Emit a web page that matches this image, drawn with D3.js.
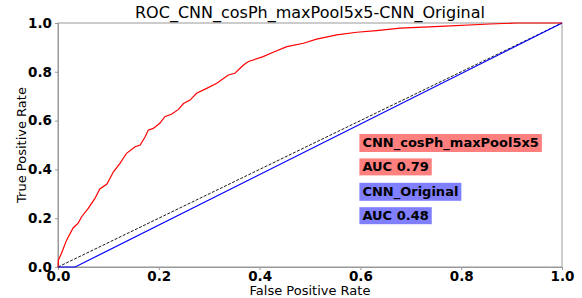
<!DOCTYPE html>
<html>
<head>
<meta charset="utf-8">
<script src="https://cdn.jsdelivr.net/npm/d3@7"></script>
<style>
body { margin: 0; background: #fff; }
svg { display: block; font-family: "DejaVu Sans", sans-serif; }
</style>
</head>
<body>
<div id="chart"></div>
<script>
let width = 582,
	height = 298;

let margin = {top: 23, right: 20, bottom: 31, left: 58};

// ROC points: [fpr, tpr]
let fprCos = [0, 0.001, 0.007, 0.017, 0.03, 0.04, 0.047, 0.06, 0.073, 0.083, 0.097, 0.103, 0.11, 0.123, 0.136, 0.153, 0.163, 0.173, 0.179, 0.189, 0.202, 0.212, 0.226, 0.239, 0.249, 0.262, 0.275, 0.295, 0.315, 0.338, 0.351, 0.368, 0.378, 0.407, 0.427, 0.454, 0.487, 0.513, 0.553, 0.593, 0.632, 0.679, 0.758, 0.857, 0.91, 1.0];
let tprCos = [0, 0.03, 0.056, 0.11, 0.16, 0.18, 0.206, 0.24, 0.28, 0.32, 0.34, 0.363, 0.39, 0.425, 0.466, 0.493, 0.5, 0.534, 0.561, 0.568, 0.589, 0.616, 0.627, 0.646, 0.67, 0.684, 0.712, 0.732, 0.753, 0.787, 0.794, 0.828, 0.842, 0.862, 0.88, 0.903, 0.917, 0.934, 0.951, 0.962, 0.969, 0.979, 0.986, 0.996, 1.0, 1.0];

let fprOrig = [0, 0.034, 1.0];
let tprOrig = [0, 0, 1.0];

let chance = [0, 1];

let ticks = [0, 0.2, 0.4, 0.6, 0.8, 1.0];

let labels = ["CNN_cosPh_maxPool5x5", "AUC 0.79", "CNN_Original", "AUC 0.48"];
let labelY = [0.5, 0.4, 0.3, 0.2];
let labelColor = ["#ff7f7f", "#ff7f7f", "#7f7fff", "#7f7fff"];

let title = "ROC_CNN_cosPh_maxPool5x5-CNN_Original";

let svg = d3.select('#chart').append('svg')
	.attr('width', width)
	.attr('height', height);

let x = d3.scaleLinear()
	.domain([0, 1])
	.range([margin.left, width - margin.right]);

let y = d3.scaleLinear()
	.domain([0, 1])
	.range([height - margin.bottom, margin.top]);

let line = d3.line()
	.x(function (d) { return x(d[0]) })
	.y(function (d) { return y(d[1]) });

// frame
svg.append('rect')
	.attr('x', x(0))
	.attr('y', y(1))
	.attr('width', x(1) - x(0))
	.attr('height', y(0) - y(1))
	.attr('fill', 'none')
	.attr('stroke', '#999');

// axes
let xAxis = d3.axisBottom(x).tickValues(ticks).tickFormat(d3.format('.1f')).tickSize(3);
let yAxis = d3.axisLeft(y).tickValues(ticks).tickFormat(d3.format('.1f')).tickSize(3);

function styleAxis(g) {
	g.selectAll('.domain').attr('stroke', '#999');
	g.selectAll('.tick line').attr('stroke', '#999');
	g.selectAll('.tick text')
		.attr('fill', '#000')
		.style('font-family', '"DejaVu Sans", sans-serif')
		.style('font-size', '13.5px')
		.style('font-weight', 'bold');
}

svg.append('g')
	.attr('transform', 'translate(0,' + y(0) + ')')
	.call(xAxis)
	.call(styleAxis)
	.call(function (g) { g.selectAll('text').attr('dy', '0.62em') });

svg.append('g')
	.attr('transform', 'translate(' + x(0) + ',0)')
	.call(yAxis)
	.call(styleAxis);

// chance line
svg.append('path')
	.datum(chance.map(function (d) { return [d, d] }))
	.attr('d', line)
	.attr('fill', 'none')
	.attr('stroke', '#000')
	.attr('stroke-width', 0.9)
	.attr('stroke-dasharray', '3,1.5');

// original model
svg.append('path')
	.datum(fprOrig.map(function (d, i) { return [d, tprOrig[i]] }))
	.attr('d', line)
	.attr('fill', 'none')
	.attr('stroke', '#0000ff')
	.attr('stroke-width', 1.2);

// cosPh model
svg.append('path')
	.datum(fprCos.map(function (d, i) { return [d, tprCos[i]] }))
	.attr('d', line)
	.attr('fill', 'none')
	.attr('stroke', '#ff0000')
	.attr('stroke-width', 1.2);

// boxed labels
labels.forEach(function (t, i) {
	let g = svg.append('g');
	let txt = g.append('text')
		.attr('x', x(0.6) + 2)
		.attr('y', y(labelY[i]) + 2)
		.attr('font-size', '13px')
		.attr('font-weight', 'bold')
		.text(t);
	let bb = txt.node().getBBox();
	g.insert('rect', 'text')
		.attr('x', bb.x - 3)
		.attr('y', bb.y - 1)
		.attr('width', bb.width + 6)
		.attr('height', bb.height + 2)
		.attr('fill', labelColor[i]);
});

// titles
svg.append('text')
	.attr('x', (x(0) + x(1)) / 2)
	.attr('y', 18)
	.attr('text-anchor', 'middle')
	.attr('font-size', '16px')
	.text(title);

svg.append('text')
	.attr('x', (x(0) + x(1)) / 2)
	.attr('y', 295)
	.attr('text-anchor', 'middle')
	.attr('font-size', '13px')
	.text('False Positive Rate');

svg.append('text')
	.attr('transform', 'translate(26,' + (y(0) + y(1)) / 2 + ') rotate(-90)')
	.attr('text-anchor', 'middle')
	.attr('font-size', '13px')
	.text('True Positive Rate');
</script>
</body>
</html>
